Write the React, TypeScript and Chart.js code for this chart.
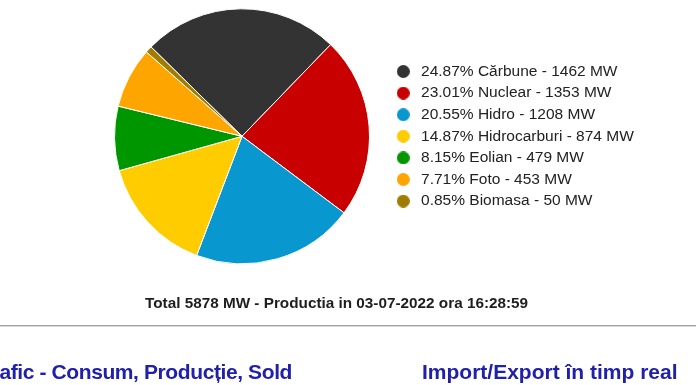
import React, { useEffect, useRef } from 'react';
import { Chart, registerables } from 'chart.js';

Chart.register(...registerables);

const categories = ['Cărbune', 'Nuclear', 'Hidro', 'Hidrocarburi', 'Eolian', 'Foto', 'Biomasa'];
const valuesMW = [1462, 1353, 1208, 874, 479, 453, 50];
const percents = ['24.87', '23.01', '20.55', '14.87', '8.15', '7.71', '0.85'];
const colors = ['#333333', '#c80000', '#0898cf', '#ffcc00', '#009600', '#ffa500', '#a07c00'];
const totalMW = 5878;
const timestampText = '03-07-2022 ora 16:28:59';
const linkLeft = 'Grafic - Consum, Producție, Sold';
const linkRight = 'Import/Export în timp real';

const FONT = "'Liberation Sans', Arial, Helvetica, sans-serif";
const LEGEND_FONT_SIZE = 15.5;
const LEGEND_PAD = 6.1;
const LEGEND_BOX_W = 20;

function makeDot(color: string, d: number): HTMLCanvasElement {
  const c = document.createElement('canvas');
  c.width = d;
  c.height = d;
  const ctx = c.getContext('2d')!;
  ctx.fillStyle = color;
  ctx.beginPath();
  ctx.arc(d / 2, d / 2, d / 2, 0, Math.PI * 2);
  ctx.fill();
  return c;
}

const legendTexts = categories.map((c, i) => `${percents[i]}% ${c} - ${valuesMW[i]} MW`);

export default function App() {
  const canvasRef = useRef<HTMLCanvasElement | null>(null);

  useEffect(() => {
    if (!canvasRef.current) return;
    const dots = colors.map((c) => makeDot(c, 13));

    // measure legend's natural width so the legend's left edge lands where wanted
    const mctx = document.createElement('canvas').getContext('2d')!;
    mctx.font = `${LEGEND_FONT_SIZE}px ${FONT}`;
    const maxTextW = Math.max(...legendTexts.map((t) => mctx.measureText(t).width));
    const legendNaturalW = LEGEND_PAD + LEGEND_BOX_W + LEGEND_FONT_SIZE / 2 + maxTextW + 10;
    const legendLeft = 387.2;
    const pieCenterX = 242;
    const padRight = 696 - legendLeft - legendNaturalW;
    const padLeft = 2 * pieCenterX - legendLeft;

    const chart = new Chart(canvasRef.current, {
      type: 'pie',
      data: {
        labels: categories,
        datasets: [
          {
            data: valuesMW,
            backgroundColor: colors,
            borderColor: '#ffffff',
            borderWidth: 1,
            radius: 127.5,
          } as any,
        ],
      },
      options: {
        animation: false,
        responsive: false,
        maintainAspectRatio: false,
        rotation: -45.5,
        layout: { padding: { left: padLeft, right: padRight, top: 8, bottom: 120.4 } },
        plugins: {
          legend: {
            position: 'right',
            labels: {
              usePointStyle: true,
              pointStyleWidth: LEGEND_BOX_W,
              boxHeight: 13,
              padding: LEGEND_PAD,
              color: '#222222',
              font: { family: FONT, size: LEGEND_FONT_SIZE },
              generateLabels: () =>
                categories.map((c, i) => ({
                  text: legendTexts[i],
                  fillStyle: colors[i],
                  strokeStyle: colors[i],
                  lineWidth: 0,
                  pointStyle: dots[i] as any,
                  hidden: false,
                  index: i,
                  fontColor: '#222222',
                })),
            },
          },
          tooltip: { enabled: false },
        },
      } as any,
    });
    return () => chart.destroy();
  }, []);

  return (
    <div
      style={{
        position: 'absolute',
        left: 0,
        top: 0,
        width: 696,
        height: 385,
        overflow: 'hidden',
        background: '#ffffff',
        fontFamily: FONT,
      }}
    >
      <canvas ref={canvasRef} width={696} height={385} style={{ position: 'absolute', left: 0, top: 0 }} />
      <div
        style={{
          position: 'absolute',
          left: 145,
          top: 294,
          lineHeight: '18px',
          fontSize: 15.3,
          fontWeight: 'bold',
          color: '#1e1e1e',
          whiteSpace: 'nowrap',
        }}
      >
        {`Total ${totalMW} MW - Productia in ${timestampText}`}
      </div>
      <div
        style={{
          position: 'absolute',
          left: 0,
          top: 325,
          width: 696,
          height: 0,
          borderTop: '1px solid #a0a0a0',
          borderBottom: '1px solid #dcdcdc',
        }}
      />
      <div
        style={{
          position: 'absolute',
          right: 404,
          top: 360,
          lineHeight: '24px',
          fontSize: 21,
          letterSpacing: '-0.4px',
          fontWeight: 'bold',
          color: '#2020a8',
          whiteSpace: 'nowrap',
        }}
      >
        {linkLeft}
      </div>
      <div
        style={{
          position: 'absolute',
          left: 422,
          top: 360,
          lineHeight: '24px',
          fontSize: 21,
          fontWeight: 'bold',
          color: '#2020a8',
          whiteSpace: 'nowrap',
        }}
      >
        {linkRight}
      </div>
    </div>
  );
}
